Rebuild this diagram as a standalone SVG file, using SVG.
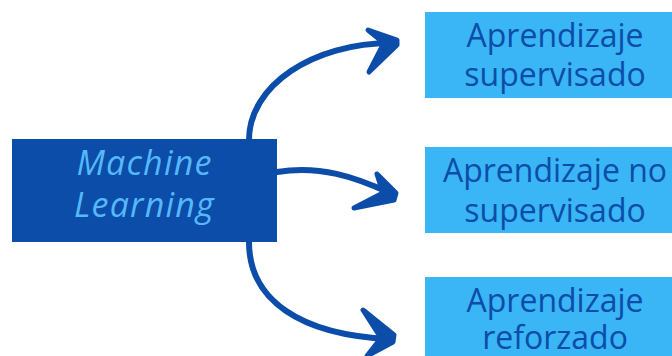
<svg xmlns="http://www.w3.org/2000/svg" width="672" height="356" viewBox="0 0 672 356">
<style>
.main{fill:#0b4da8}
.mt{font-family:"Open Sans","Liberation Sans",sans-serif;font-style:italic;font-size:34px;letter-spacing:1.2px;fill:#55b8fb;text-anchor:middle}
.sub{fill:#3ab5f5}
.st{font-family:"Open Sans","Liberation Sans",sans-serif;font-size:32px;fill:#0b4da8;text-anchor:middle}
.shaft{fill:none;stroke:#0b4da8;stroke-width:6;stroke-linecap:round}
.head{fill:#0b4da8;stroke:#0b4da8;stroke-width:5;stroke-linecap:round;stroke-linejoin:round}
</style>
<rect width="672" height="356" fill="#ffffff"/>
<g id="connectors">
<path class="shaft" d="M249,140 C249,86 312,43 392,43"/>
<path class="head" d="M368,30 L397,40 L397,45 L369,72 L384,43 Z"/>
<path class="shaft" d="M277,172 C320,165 355,177 390,193"/>
<path class="head" d="M377,174 L396,193 L394,200 L354,208 L383,193 Z"/>
<path class="shaft" d="M249,242 C249,300 300,335 390,339"/>
<path class="head" d="M363,310 L394,335 L393,342 L367,356 L381,338 Z"/>
</g>
<g id="machine-learning">
<rect class="main" x="12" y="139" width="265" height="103"/>
<text class="mt" x="144.5" y="175">Machine</text>
<text class="mt" x="144.5" y="217">Learning</text>
</g>
<g id="supervisado">
<rect class="sub" x="425" y="12" width="260" height="86"/>
<text class="st" x="555" y="47">Aprendizaje</text>
<text class="st" x="555" y="86">supervisado</text>
</g>
<g id="no-supervisado">
<rect class="sub" x="425" y="147" width="260" height="86"/>
<text class="st" x="555" y="182">Aprendizaje no</text>
<text class="st" x="555" y="222">supervisado</text>
</g>
<g id="reforzado">
<rect class="sub" x="425" y="277" width="260" height="86"/>
<text class="st" x="555" y="312">Aprendizaje</text>
<text class="st" x="555" y="349">reforzado</text>
</g>
</svg>
